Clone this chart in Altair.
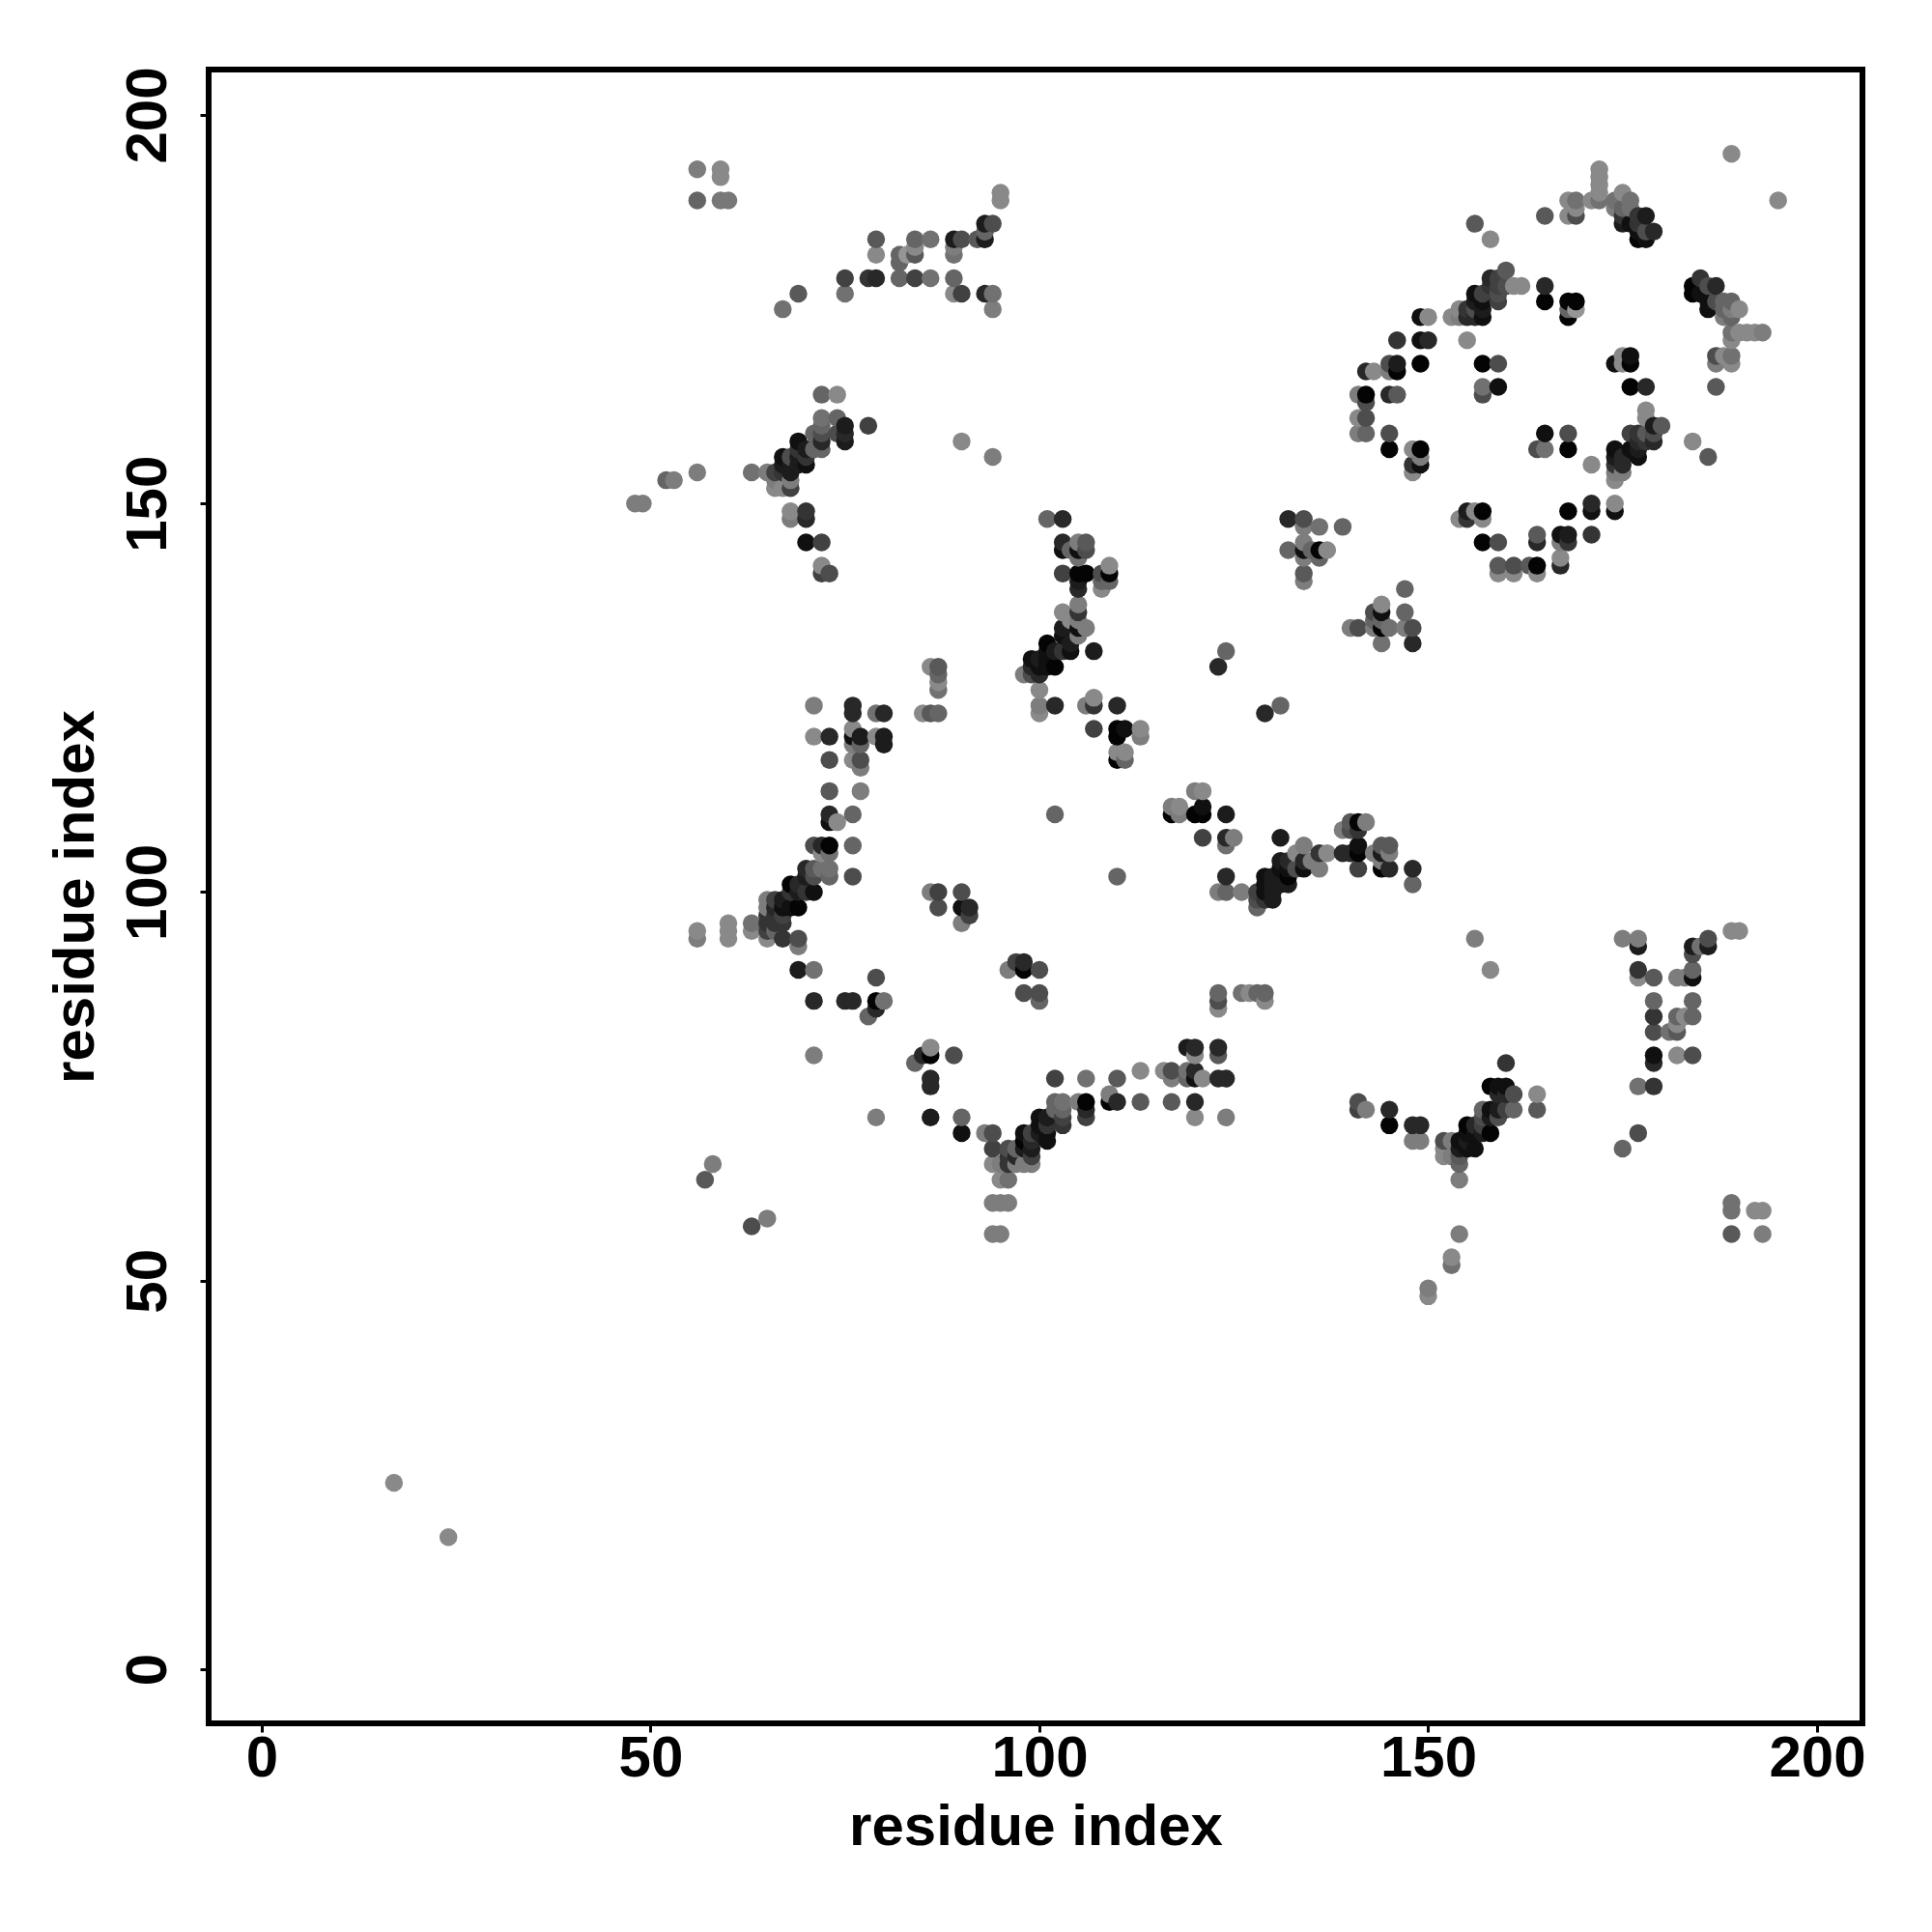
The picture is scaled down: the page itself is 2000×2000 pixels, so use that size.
import altair as alt
import pandas as pd

# (x residue, y residue, darkness), grouped by region of the map
far_corner = [(17,24,.45),(24,17,.45),(57,63,.65),(58,65,.5),(63,57,.7),(65,58,.5)]
top_left = [(56,193,.5),(59,193,.45),(59,192,.45),(56,189,.6),(59,189,.52),(60,189,.52),
 (95,190,.45),(95,189,.45),(93,186,.9),(94,186,.7),(93,184,.9),(92,184,.65),(93,185,.6),(89,184,.9),(90,184,.7),
 (89,183,.5),(89,182,.55),(86,184,.55),(84,184,.6),(84,183,.45),(84,182,.65),(83,182,.4),(82,182,.6),(82,181,.6),
 (79,184,.65),(79,182,.45),(75,179,.75),(75,177,.55),(78,179,.8),(79,179,.85),(82,179,.6),(84,179,.75),(86,179,.55),
 (89,179,.6),(89,177,.45),(90,177,.75),(93,177,.85),(94,177,.55),(94,175,.5),(69,177,.65),(67,175,.55)]
helix_left = [(72,164,.6),(74,164,.45),(72,161,.55),(74,161,.6),(75,160,.9),(78,160,.75),(75,159,.85),(75,158,.9),
 (74,159,.7),(71,159,.6),(72,160,.6),(72,159,.7),(72,158,.85),(72,157,.6),(71,157,.6),(69,158,.95),(70,157,.9),
 (69,157,.8),(70,156,.8),(67,156,.95),(68,156,.7),(69,156,.9),(67,155,.9),(68,155,.9),(70,155,.95),(69,155,.9),
 (66,154,.75),(67,154,.8),(68,154,.9),(63,154,.55),(65,154,.5),(56,154,.5),(66,153,.5),(68,153,.5),(66,152,.45),
 (68,152,.75),(67,152,.45),(52,153,.6),(53,153,.5),(48,150,.5),(49,150,.5),(68,149,.45),(68,148,.5),(70,149,.8),
 (70,148,.85),(70,145,.95),(72,145,.75),(72,142,.45),(72,141,.75),(73,141,.7),(90,158,.45),(94,156,.5)]
ring_top = [(189,195,.45),(195,189,.45),(172,193,.45),(172,192,.45),(172,191,.45),(172,190,.45),(172,189,.55),(171,189,.45),
 (168,189,.45),(169,189,.55),(169,188,.45),(168,187,.45),(169,187,.7),(165,187,.65),(175,190,.45),(176,189,.55),
 (174,189,.55),(174,188,.5),(175,188,.6),(176,188,.55),(175,187,.8),(177,187,.8),(178,187,.9),(175,186,.9),(176,186,.95),
 (177,186,.8),(177,185,.95),(179,185,.85),(178,185,.7),(177,184,1),(178,184,.95),(156,186,.65),(158,184,.45)]
ring_left = [(160,180,.65),(158,179,.85),(159,179,.75),(158,178,.8),(159,178,.75),(161,178,.45),(162,178,.45),(160,178,.7),
 (156,177,.95),(159,177,.7),(157,177,.75),(156,176,.9),(157,176,.95),(159,176,.75),(155,175,.8),(156,175,.7),(157,175,.9),
 (155,174,.85),(156,174,.85),(157,174,.95),(154,175,.45),(153,174,.45),(154,174,.5),(149,174,.95),(150,174,.45),
 (146,171,.8),(149,171,.95),(150,171,.85),(155,171,.45),(165,178,.85),(165,176,1),(168,176,1),(169,176,1),(168,175,.6),
 (169,175,.4),(168,174,1),(146,168,.9),(145,168,.7),(146,167,1),(145,167,.5),(142,167,.85),(143,167,.45),(149,168,1),
 (157,168,1),(159,168,.7),(157,165,.55),(159,165,.95),(157,164,.7),(141,164,.5),(142,164,1),(142,163,.7),(145,164,.85),
 (146,164,.65),(141,161,.45),(142,161,.7),(141,159,.5),(142,159,.6),(145,159,.7),(145,157,1),(148,157,.45),(149,157,1),
 (149,156,.5),(148,155,.8),(149,155,.95),(148,154,.45)]
ring_right = [(174,168,.95),(175,169,.45),(175,168,.45),(176,169,.95),(176,168,1),(176,165,1),(178,165,.85),(178,162,.45),
 (178,161,.45),(179,160,.9),(180,160,.65),(176,159,.75),(177,159,.8),(178,159,.65),(179,159,.7),(177,158,.85),(179,158,.85),
 (178,158,.8),(174,157,.95),(176,157,.95),(177,157,.9),(174,156,.9),(175,156,.85),(177,156,.95),(174,155,.8),(175,155,.85),
 (174,154,.5),(175,154,.5),(174,153,.45),(171,155,.45),(165,159,.95),(168,159,.7),(164,157,.7),(165,157,.55),(168,157,1),
 (184,158,.45),(186,156,.65)]
arm_right = [(185,179,.8),(184,178,1),(186,178,.7),(187,178,.85),(184,177,1),(185,177,.95),(186,176,.95),(187,176,.7),
 (186,175,.95),(188,176,.6),(189,176,.6),(188,175,.6),(189,175,.5),(190,175,.45),(188,174,.5),(189,174,.6),(189,172,.55),
 (189,171,.45),(190,172,.45),(191,172,.45),(192,172,.45),(193,172,.5),(187,169,.7),(188,169,.45),(189,169,.55),(187,168,.5),
 (189,168,.45),(187,165,.65)]
ring_bottom = [(154,148,.45),(155,149,.9),(155,148,.8),(156,149,.45),(157,149,1),(157,148,.45),(157,145,1),(159,145,.7),
 (159,142,.65),(159,141,.45),(161,142,.7),(161,141,.45),(163,142,.65),(164,142,1),(164,141,.45),(164,146,.65),(164,145,.85),
 (167,146,.95),(168,146,.9),(167,145,.5),(168,145,.8),(167,143,.45),(167,142,.85),(171,146,.8),(168,149,1),(171,150,.85),
 (171,149,.95),(174,150,.45),(174,149,.95)]
helix_mid = [(101,148,.6),(103,148,.85),(103,145,.85),(103,144,.95),(104,144,.6),(105,145,.5),(106,145,.65),(106,144,.7),
 (105,144,.95),(105,143,.55),(103,141,.75),(105,141,1),(106,141,1),(105,140,.9),(105,139,.85),(108,141,.7),(109,142,.45),
 (109,141,1),(108,140,.6),(109,140,.6),(108,139,.45),(103,136,.45),(105,137,.5),(105,136,.8),(105,135,.5),(104,135,.45),
 (106,134,.5),(105,134,.95),(105,133,.5),(103,134,.9),(103,133,.95),(104,132,.9),(104,131,.95),(107,131,.9),(101,132,1),
 (101,131,.95),(102,131,.9),(103,131,.8),(99,130,.95),(100,130,.9),(101,130,.95),(102,129,1),(101,129,.95),(100,129,.95),
 (99,129,.85),(100,128,.85),(99,128,.7),(98,128,.5),(100,126,.45),(100,124,.5),(100,123,.45),(102,124,.85),(107,125,.45),
 (106,124,.5),(107,124,.8),(110,124,.85),(107,121,.75),(110,121,1),(111,121,.95),(110,120,1),(113,121,.45),(113,120,.5),
 (110,118,.45),(111,118,.45),(110,117,1),(111,117,.6),(124,131,.6),(123,129,.85),(131,124,.6),(129,123,.85)]
mid_right = [(132,148,.85),(134,148,.7),(134,147,.5),(136,147,.55),(139,147,.6),(132,144,.6),(134,145,.5),(134,144,.95),
 (134,143,.5),(135,144,.6),(136,144,1),(137,144,.45),(136,143,.6),(134,141,.65),(134,140,.5),(147,139,.6),(144,137,.45),
 (143,136,.7),(144,136,.95),(147,136,.6),(143,135,.6),(144,135,.6),(140,134,.5),(141,134,.7),(143,134,.5),(144,134,1),
 (145,134,.55),(147,134,.5),(148,134,.7),(144,132,.55),(148,132,.85)]
centre = [(102,110,.6),(110,102,.6),(120,113,.5),(121,113,.45),(121,111,.95),(120,110,1),(121,110,1),(117,111,.5),(118,111,.45),
 (117,110,1),(118,110,.5),(124,110,.9),(121,107,.75),(124,107,.85),(125,107,.5),(124,106,.55),(131,107,.9),(134,106,.5),
 (133,105,.45),(136,105,.8),(137,105,.45),(139,105,.85),(140,105,.85),(141,106,.95),(141,105,1),(139,108,.5),(140,109,.65),
 (141,109,1),(142,109,.5),(140,108,.7),(141,108,.8),(143,105,.5),(144,106,.65),(145,106,.65),(144,105,.9),(145,105,.5),
 (144,104,.5),(141,103,.75),(144,103,1),(145,103,.85),(148,103,.85),(148,101,.6),(136,103,.5),(134,103,.95),(132,104,.85),
 (131,104,.9),(131,103,.95),(132,103,.95),(133,103,.7),(134,104,.85),(135,104,.5),(132,102,1),(129,102,.95),(130,102,.9),
 (129,101,.95),(130,101,.9),(131,101,.9),(132,101,.9),(128,100,.75),(129,100,.95),(130,100,.9),(128,99,.7),(129,99,.8),
 (130,99,.9),(128,98,.6),(124,102,.85),(123,100,.5),(124,100,.6),(126,100,.5)]
left_column = [(86,129,.45),(87,129,.65),(87,128,.6),(87,127,.45),(87,126,.55),(85,123,.45),(86,123,.65),(87,123,.6),(71,124,.5),
 (76,124,.85),(76,123,.85),(79,123,.55),(80,123,.85),(71,120,.45),(73,120,.85),(76,121,.45),(76,120,.95),(77,120,.9),(76,119,.5),
 (77,119,.6),(79,120,.45),(80,120,.9),(80,119,.9),(73,117,.7),(76,117,.45),(77,117,.7),(77,116,.5),(73,113,.65),(77,113,.5),
 (73,110,.85),(73,109,.95),(74,109,.45),(76,110,.6),(71,106,.7),(72,106,.85),(73,106,1),(76,106,.6),(73,105,.55),(72,105,.45),
 (76,102,.7),(73,103,.55),(73,102,.6),(70,103,.85),(71,103,.65),(71,102,.7),(70,102,.9),(72,103,.55),(68,101,1),(69,101,.85),
 (71,100,.95),(70,100,.8),(69,100,.9),(68,100,.8),(65,99,.5),(66,99,.75),(65,98,.5),(66,98,.85),(67,99,.9),(67,98,.95),(68,98,.95),
 (69,98,1),(65,97,.8),(66,97,.8),(67,97,.75),(65,96,.8),(66,96,.8),(67,96,.8),(63,96,.55),(63,95,.45),(65,95,.75),(66,95,.6),
 (60,96,.45),(60,95,.45),(60,94,.45),(56,95,.45),(56,94,.5),(65,94,.45),(67,94,.8),(69,94,.7),(69,93,.5),(69,90,.9),(71,90,.55),
 (79,89,.7),(71,86,.85),(75,86,.85),(76,86,.85),(79,86,1),(80,86,.55),(79,85,.85),(78,84,.6)]
mid_pairs = [(86,100,.5),(87,100,.75),(90,100,.7),(87,98,.7),(90,98,.95),(91,98,.85),(91,97,.75),(90,96,.5),(96,90,.5),(97,91,.75),
 (98,91,.85),(98,90,1),(100,90,.7),(98,87,.7),(100,87,.7),(100,86,.6),(71,79,.5),(84,78,.6),(85,79,.85),(86,80,.45),(86,79,1),
 (89,79,.7),(86,76,.85),(86,75,.85),(86,71,.9),(79,71,.5)]
lower_band = [(102,76,.75),(106,76,.55),(110,76,.65),(123,87,.6),(123,86,.7),(123,85,.45),(126,87,.55),(127,87,.45),(128,87,.6),
 (129,87,.6),(129,86,.45),(119,80,.9),(120,80,.85),(123,80,.85),(123,79,.65),(120,79,.45),(113,77,.45),(116,77,.45),(117,77,.7),
 (117,76,.5),(119,77,.55),(120,77,.85),(119,76,.6),(120,76,.95),(121,76,.45),(123,76,.85),(124,76,.85),(109,74,.5),(109,73,1),
 (110,73,.85),(113,73,.65),(117,73,.65),(120,73,.85),(120,71,.45),(124,71,.5),(102,73,.6),(103,73,.55),(105,73,.5),(106,73,1),
 (106,72,.85),(106,71,.75),(102,72,.6),(103,72,.6),(103,71,.75),(103,70,.8),(100,71,.95),(101,71,.9),(100,70,.95),(101,70,.8),
 (101,69,.95),(101,68,.95),(100,69,.9),(98,69,.95),(99,69,.75),(98,68,1),(99,68,.85),(99,67,.9),(98,67,.9),(94,69,.7),(93,69,.5),
 (90,69,.95),(90,71,.6),(94,67,.75),(96,67,.7),(97,67,.6),(96,66,.8),(97,66,.85),(96,65,.8),(97,65,.5),(98,65,.5),(99,65,.5),
 (99,66,.75),(94,65,.45),(95,65,.5),(95,63,.45),(96,63,.55),(94,60,.5),(95,60,.5),(96,60,.5),(94,56,.5),(95,56,.5)]
lower_right = [(141,73,.7),(141,72,.75),(142,72,.5),(145,72,.85),(145,70,1),(148,70,.85),(149,70,.85),(148,68,.5),(149,68,.5),
 (156,94,.5),(158,90,.45),(160,78,.8),(158,75,1),(159,75,.95),(160,75,.95),(161,74,.7),(164,74,.45),(164,72,.65),(161,72,.6),
 (159,74,.85),(160,74,.85),(158,72,.95),(157,72,.6),(160,72,.75),(159,72,.9),(159,71,.7),(158,71,.9),(157,71,.7),(155,70,1),
 (156,70,.85),(157,70,.75),(158,69,1),(157,69,.9),(156,69,.95),(155,69,.95),(154,68,.95),(155,68,.9),(156,67,.95),(155,67,.95),
 (154,67,.9),(152,68,.7),(153,68,.5),(152,67,.45),(153,66,.5),(152,66,.45),(154,66,.65),(154,65,.6),(154,63,.5),(154,56,.5),
 (153,53,.45),(153,52,.55),(150,49,.5),(150,48,.45)]
y_shape = [(175,94,.5),(177,94,.5),(177,93,.9),(189,95,.45),(190,95,.45),(186,94,.7),(186,93,.9),(184,93,.9),(185,93,.55),(184,92,.7),
 (177,90,.8),(177,89,.45),(179,89,.65),(182,89,.5),(183,89,.5),(184,90,.6),(184,89,.95),(179,86,.6),(184,86,.6),(179,84,.8),
 (182,84,.6),(183,84,.45),(184,84,.6),(182,83,.45),(179,82,.7),(181,82,.55),(182,82,.65),(179,79,.95),(179,78,.85),(182,79,.45),
 (184,79,.7),(177,75,.55),(179,75,.8),(177,69,.7),(175,67,.6),(189,60,.55),(189,59,.55),(192,59,.45),(193,59,.45),(189,56,.65),(193,56,.5)]

tick_values = [0, 50, 100, 150, 200]
axis_title = "residue index"

regions = [far_corner, top_left, helix_left, ring_top, ring_left, ring_right, arm_right, ring_bottom, helix_mid,
           mid_right, centre, left_column, mid_pairs, lower_band, lower_right, y_shape]
seen = {}
for region in regions:
    for x, y, a in region:
        seen.setdefault((x, y), a)
# The reference paints opaque greys, in order of x then y, so later points cover earlier ones
rows = []
for (x, y), a in sorted(seen.items()):
    g = round(255 * (1 - a) * 0.95 + 4)
    rows.append({"x": x, "y": y, "grey": f"#{g:02x}{g:02x}{g:02x}"})
df = pd.DataFrame(rows)

font = "Liberation Sans"
def axis(padding, title_padding, angle=0, **kw):
    return alt.Axis(values=tick_values, grid=False, domain=False, tickColor="black", tickWidth=3, tickSize=9,
                    labelFont=font, labelFontWeight="bold", labelFontSize=60, labelColor="black", labelPadding=padding,
                    labelAngle=angle, title=axis_title, titleFont=font, titleFontWeight="bold", titleFontSize=60,
                    titleColor="black", titlePadding=title_padding, labelFlush=False, labelOverlap=False, **kw)

chart = alt.Chart(df).mark_circle(size=342, opacity=1).encode(
    x=alt.X("x:Q", scale=alt.Scale(domain=[-6.83, 205.84], nice=False, zero=False),
            axis=axis(-2, 12)),
    y=alt.Y("y:Q", scale=alt.Scale(domain=[-6.96, 205.84], nice=False, zero=False),
            axis=axis(23, 14, angle=270, labelAlign="center", labelBaseline="bottom")),
    color=alt.Color("grey:N", scale=None),
).properties(
    width=1712, height=1712,
    autosize=alt.AutoSizeParams(type="none"),
    padding={"left": 208, "top": 64, "right": 64, "bottom": 208},
).configure_view(stroke="black", strokeWidth=6, fill="white")

chart.save("out.html", embed_options={"renderer": "svg", "actions": False})
